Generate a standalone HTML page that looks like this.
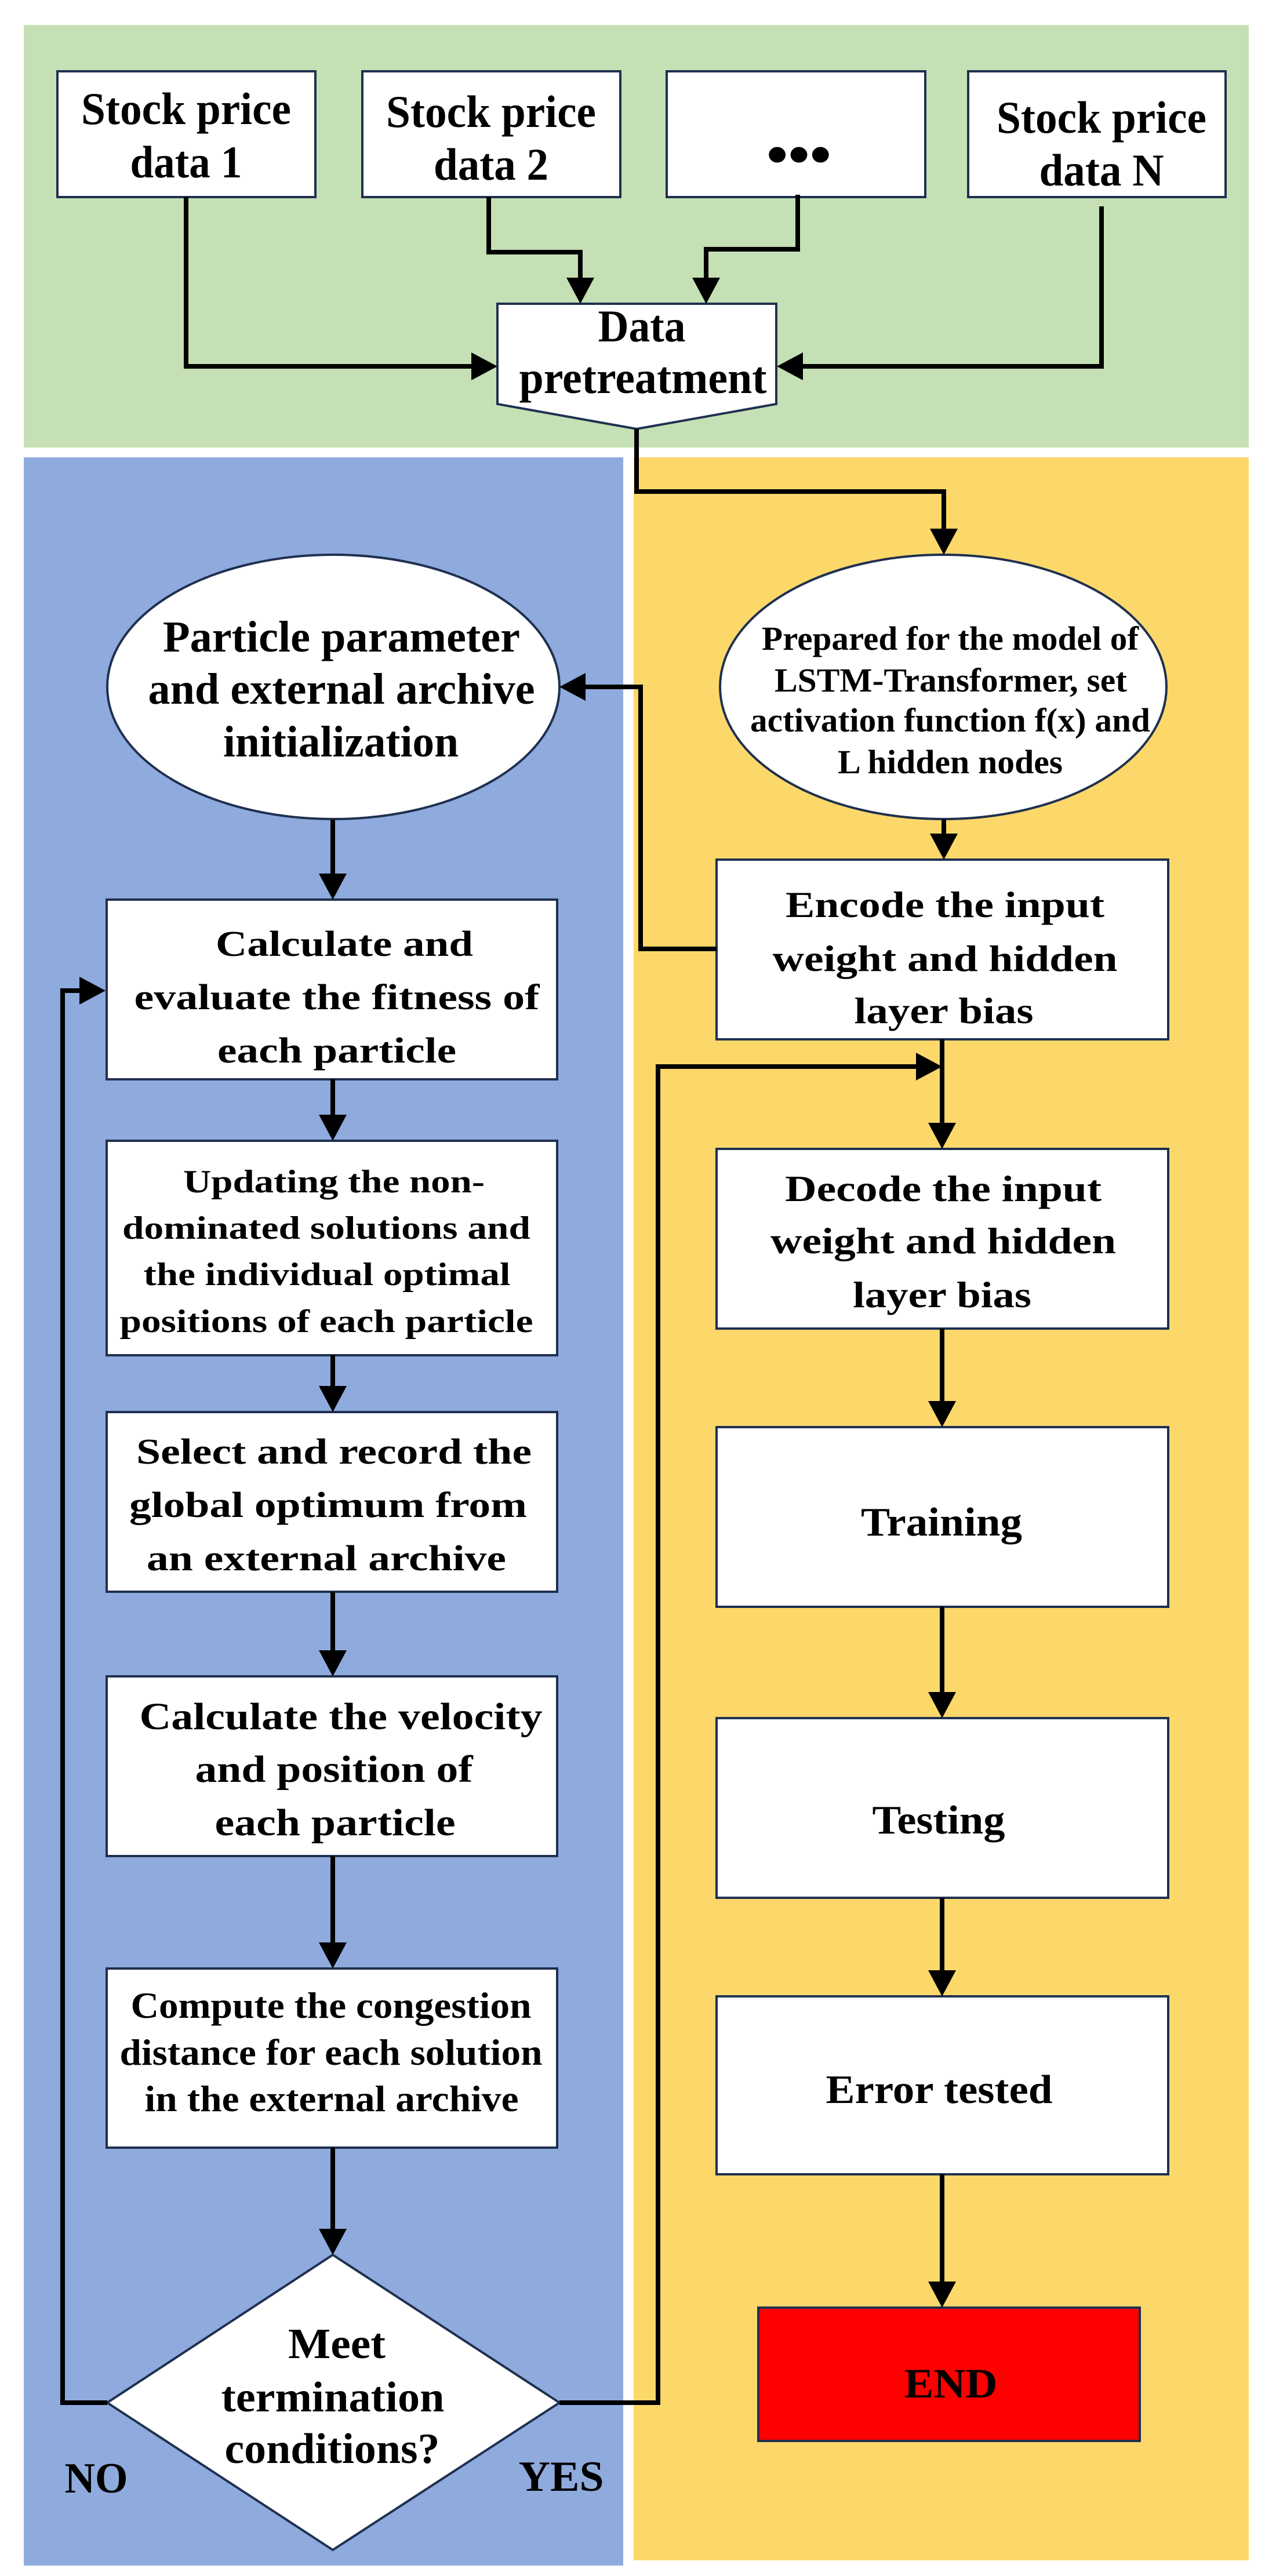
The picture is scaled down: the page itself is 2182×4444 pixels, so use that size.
<!DOCTYPE html>
<html><head><meta charset="utf-8"><style>
html,body{margin:0;padding:0;background:#fff}
svg{display:block}
text{font-family:"Liberation Serif",serif;font-weight:bold;fill:#000}
</style></head><body>
<svg width="2182" height="4444" viewBox="0 0 2182 4444" xmlns="http://www.w3.org/2000/svg">
<rect x="0" y="0" width="2182" height="4444" fill="#fff"/>
<rect x="41" y="43" width="2113" height="729" fill="#c5e0b4"/>
<rect x="41" y="789" width="1034" height="3637" fill="#8faadc"/>
<rect x="1093" y="789" width="1061" height="3628" fill="#fcd86a"/>

<g fill="#fff" stroke="#1f3050" stroke-width="4">
<rect x="99" y="123" width="445" height="217"/>
<rect x="625" y="123" width="445" height="217"/>
<rect x="1150" y="123" width="446" height="217"/>
<rect x="1670" y="123" width="444" height="217"/>
<polygon points="858,524 1339,524 1339,697 1098,740 858,697"/>
<ellipse cx="575" cy="1185" rx="390" ry="228"/>
<ellipse cx="1627" cy="1185" rx="385" ry="228"/>
<rect x="184" y="1552" width="777" height="310"/>
<rect x="184" y="1968" width="777" height="370"/>
<rect x="184" y="2436" width="777" height="310"/>
<rect x="184" y="2892" width="777" height="310"/>
<rect x="184" y="3396" width="777" height="309"/>
<polygon points="574,3890 965,4145 574,4399 185,4145"/>
<rect x="1236" y="1483" width="779" height="310"/>
<rect x="1236" y="1982" width="779" height="310"/>
<rect x="1236" y="2462" width="779" height="310"/>
<rect x="1236" y="2964" width="779" height="310"/>
<rect x="1236" y="3444" width="779" height="307"/>
<rect x="1308" y="3981" width="658" height="230" fill="#ff0000"/>
</g>

<g fill="none" stroke="#000" stroke-width="8">
<path d="M321 340 V632 H815"/>
<path d="M843 340 V435 H1001 V482"/>
<path d="M1376 336 V430 H1218 V482"/>
<path d="M1900 356 V632 H1383"/>
<path d="M1098 740 V848 H1628 V915"/>
<path d="M1628 1414 V1440"/>
<path d="M1236 1637 H1105 V1185 H1008"/>
<path d="M574 1414 V1510"/>
<path d="M574 1862 V1925"/>
<path d="M574 2338 V2393"/>
<path d="M574 2746 V2849"/>
<path d="M574 3202 V3353"/>
<path d="M574 3705 V3847"/>
<path d="M185 4145 H108 V1709 H140"/>
<path d="M965 4145 H1135 V1840 H1582"/>
<path d="M1625 1793 V1940"/>
<path d="M1625 2292 V2420"/>
<path d="M1625 2772 V2922"/>
<path d="M1625 3274 V3402"/>
<path d="M1625 3751 V3938"/>
</g>
<g fill="#000">
<polygon points="858,632 813,608 813,656"/>
<polygon points="1001,524 977,479 1025,479"/>
<polygon points="1218,524 1194,479 1242,479"/>
<polygon points="1340,632 1385,608 1385,656"/>
<polygon points="1628,957 1604,912 1652,912"/>
<polygon points="1628,1483 1604,1438 1652,1438"/>
<polygon points="965,1185 1010,1161 1010,1209"/>
<polygon points="574,1552 550,1507 598,1507"/>
<polygon points="574,1968 550,1923 598,1923"/>
<polygon points="574,2436 550,2391 598,2391"/>
<polygon points="574,2892 550,2847 598,2847"/>
<polygon points="574,3396 550,3351 598,3351"/>
<polygon points="574,3890 550,3845 598,3845"/>
<polygon points="182,1709 137,1685 137,1733"/>
<polygon points="1625,1840 1580,1816 1580,1864"/>
<polygon points="1625,1982 1601,1937 1649,1937"/>
<polygon points="1625,2462 1601,2417 1649,2417"/>
<polygon points="1625,2964 1601,2919 1649,2919"/>
<polygon points="1625,3444 1601,3399 1649,3399"/>
<polygon points="1625,3981 1601,3936 1649,3936"/>
</g>

<g text-anchor="middle">
<text x="321" y="214" font-size="78" textLength="362" lengthAdjust="spacingAndGlyphs">Stock price</text>
<text x="321" y="306" font-size="78" textLength="193" lengthAdjust="spacingAndGlyphs">data 1</text>
<text x="847" y="219" font-size="78" textLength="362" lengthAdjust="spacingAndGlyphs">Stock price</text>
<text x="847" y="310" font-size="78" textLength="198" lengthAdjust="spacingAndGlyphs">data 2</text>
<text x="1378" y="300" font-size="100" textLength="112" lengthAdjust="spacingAndGlyphs">•••</text>
<text x="1900" y="229" font-size="78" textLength="362" lengthAdjust="spacingAndGlyphs">Stock price</text>
<text x="1900" y="320" font-size="78" textLength="215" lengthAdjust="spacingAndGlyphs">data N</text>
<text x="1107" y="589" font-size="78" textLength="151" lengthAdjust="spacingAndGlyphs">Data</text>
<text x="1109" y="678" font-size="78" textLength="427" lengthAdjust="spacingAndGlyphs">pretreatment</text>

<text x="589" y="1124" font-size="76" textLength="616" lengthAdjust="spacingAndGlyphs">Particle parameter</text>
<text x="589" y="1214" font-size="76" textLength="667" lengthAdjust="spacingAndGlyphs">and external archive</text>
<text x="588" y="1305" font-size="76" textLength="406" lengthAdjust="spacingAndGlyphs">initialization</text>

<text x="1639" y="1121" font-size="58" textLength="650" lengthAdjust="spacingAndGlyphs">Prepared for the model of</text>
<text x="1640" y="1193" font-size="58" textLength="608" lengthAdjust="spacingAndGlyphs">LSTM-Transformer, set</text>
<text x="1639" y="1262" font-size="58" textLength="690" lengthAdjust="spacingAndGlyphs">activation function f(x) and</text>
<text x="1639" y="1334" font-size="58" textLength="388" lengthAdjust="spacingAndGlyphs">L hidden nodes</text>

<text x="594" y="1649" font-size="62" textLength="444" lengthAdjust="spacingAndGlyphs">Calculate and</text>
<text x="581" y="1741" font-size="62" textLength="699" lengthAdjust="spacingAndGlyphs">evaluate the fitness of</text>
<text x="581" y="1833" font-size="62" textLength="412" lengthAdjust="spacingAndGlyphs">each particle</text>

<text x="576" y="2057" font-size="56" textLength="520" lengthAdjust="spacingAndGlyphs">Updating the non-</text>
<text x="563" y="2137" font-size="56" textLength="704" lengthAdjust="spacingAndGlyphs">dominated solutions and</text>
<text x="564" y="2217" font-size="56" textLength="633" lengthAdjust="spacingAndGlyphs">the individual optimal</text>
<text x="563" y="2298" font-size="56" textLength="713" lengthAdjust="spacingAndGlyphs">positions of each particle</text>

<text x="576" y="2525" font-size="62" textLength="682" lengthAdjust="spacingAndGlyphs">Select and record the</text>
<text x="566" y="2617" font-size="62" textLength="686" lengthAdjust="spacingAndGlyphs">global optimum from</text>
<text x="563" y="2709" font-size="62" textLength="620" lengthAdjust="spacingAndGlyphs">an external archive</text>

<text x="588" y="2983" font-size="66" textLength="695" lengthAdjust="spacingAndGlyphs">Calculate the velocity</text>
<text x="576" y="3074" font-size="66" textLength="479" lengthAdjust="spacingAndGlyphs">and position of</text>
<text x="578" y="3166" font-size="66" textLength="415" lengthAdjust="spacingAndGlyphs">each particle</text>

<text x="571" y="3481" font-size="64" textLength="691" lengthAdjust="spacingAndGlyphs">Compute the congestion</text>
<text x="571" y="3562" font-size="64" textLength="729" lengthAdjust="spacingAndGlyphs">distance for each solution</text>
<text x="572" y="3642" font-size="64" textLength="645" lengthAdjust="spacingAndGlyphs">in the external archive</text>

<text x="581" y="4068" font-size="74" textLength="168" lengthAdjust="spacingAndGlyphs">Meet</text>
<text x="574" y="4160" font-size="74" textLength="385" lengthAdjust="spacingAndGlyphs">termination</text>
<text x="573" y="4249" font-size="74" textLength="371" lengthAdjust="spacingAndGlyphs">conditions?</text>
<text x="166" y="4300" font-size="74" textLength="109" lengthAdjust="spacingAndGlyphs">NO</text>
<text x="968" y="4297" font-size="74" textLength="147" lengthAdjust="spacingAndGlyphs">YES</text>

<text x="1630" y="1582" font-size="64" textLength="550" lengthAdjust="spacingAndGlyphs">Encode the input</text>
<text x="1630" y="1675" font-size="64" textLength="595" lengthAdjust="spacingAndGlyphs">weight and hidden</text>
<text x="1628" y="1765" font-size="64" textLength="309" lengthAdjust="spacingAndGlyphs">layer bias</text>
<text x="1627" y="2072" font-size="64" textLength="546" lengthAdjust="spacingAndGlyphs">Decode the input</text>
<text x="1627" y="2162" font-size="64" textLength="596" lengthAdjust="spacingAndGlyphs">weight and hidden</text>
<text x="1625" y="2255" font-size="64" textLength="308" lengthAdjust="spacingAndGlyphs">layer bias</text>
<text x="1624" y="2649" font-size="70" textLength="278" lengthAdjust="spacingAndGlyphs">Training</text>
<text x="1619" y="3163" font-size="70" textLength="229" lengthAdjust="spacingAndGlyphs">Testing</text>
<text x="1620" y="3628" font-size="70" textLength="391" lengthAdjust="spacingAndGlyphs">Error tested</text>
<text x="1640" y="4136" font-size="72" textLength="161" lengthAdjust="spacingAndGlyphs">END</text>
</g>
</svg>
</body></html>
